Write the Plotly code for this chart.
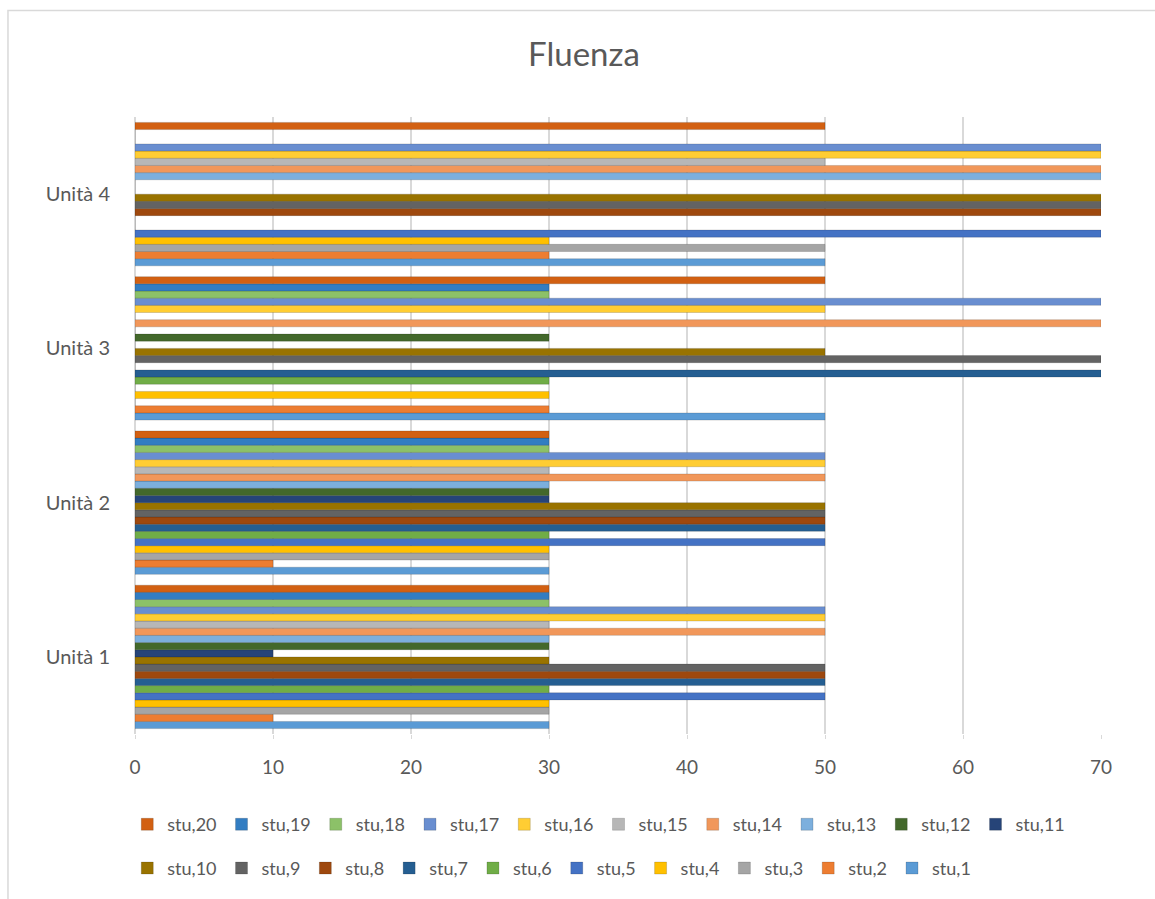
import plotly.graph_objects as go

# Categories (bottom to top) and student series
units = ["Unità 1", "Unità 2", "Unità 3", "Unità 4"]
students = [f"stu,{i}" for i in range(1, 21)]

stu_1 = [30, 30, 50, 50]
stu_2 = [10, 10, 30, 30]
stu_3 = [30, 30, 0, 50]
stu_4 = [30, 30, 30, 30]
stu_5 = [50, 50, 0, 70]
stu_6 = [30, 30, 30, 0]
stu_7 = [50, 50, 70, 0]
stu_8 = [50, 50, 0, 70]
stu_9 = [50, 50, 70, 70]
stu_10 = [30, 50, 50, 70]
stu_11 = [10, 30, 0, 0]
stu_12 = [30, 30, 30, 0]
stu_13 = [30, 30, 0, 70]
stu_14 = [50, 50, 70, 70]
stu_15 = [30, 30, 0, 50]
stu_16 = [50, 50, 50, 70]
stu_17 = [50, 50, 70, 70]
stu_18 = [30, 30, 30, 0]
stu_19 = [30, 30, 30, 0]
stu_20 = [30, 30, 50, 50]

series = [stu_1, stu_2, stu_3, stu_4, stu_5, stu_6, stu_7, stu_8, stu_9, stu_10,
          stu_11, stu_12, stu_13, stu_14, stu_15, stu_16, stu_17, stu_18, stu_19, stu_20]

colors = ["#5B9BD5", "#ED7D31", "#A5A5A5", "#FFC000", "#4472C4", "#70AD47",
          "#255E91", "#9E480E", "#636363", "#997300", "#264478", "#43682B",
          "#7CAFDD", "#F1975A", "#B7B7B7", "#FFCD33", "#698ED0", "#8CC168",
          "#327DC2", "#D26012"]

FONT = "Lato"
TEXT = "#595959"

fig = go.Figure()
for idx, (name, vals, col) in enumerate(zip(students, series, colors)):
    fig.add_trace(go.Bar(
        y=units, x=vals, name=name, orientation="h",
        # students 11-20 go in the upper legend row, 1-10 in the lower one
        legend="legend" if idx >= 10 else "legend2",
        marker=dict(color=col, line=dict(color="rgba(0,0,0,0.25)", width=0.6)),
    ))

legend_common = dict(orientation="h", traceorder="reversed", xanchor="left",
                     yanchor="middle", font=dict(size=18, color=TEXT),
                     itemwidth=30, bgcolor="rgba(0,0,0,0)")

fig.update_layout(
    width=1155, height=899,
    margin=dict(l=135, r=54, t=117, b=162),
    paper_bgcolor="white", plot_bgcolor="white",
    barmode="group", bargap=0.07, bargroupgap=0,
    font=dict(family=FONT, color=TEXT, size=20),
    title=dict(text="Fluenza", x=0.5056, xref="container", xanchor="center",
               y=0.939, yref="container", yanchor="middle",
               font=dict(family=FONT, size=33, color=TEXT)),
    xaxis=dict(range=[0, 70], dtick=10, showgrid=True, gridcolor="#D9D9D9",
               gridwidth=1.5, zeroline=True, zerolinecolor="#D9D9D9",
               zerolinewidth=1.5, showline=False, ticks="outside",
               ticklen=4, tickcolor="#D9D9D9", ticklabelstandoff=12,
               tickfont=dict(size=19, color=TEXT)),
    yaxis=dict(showgrid=False, zeroline=False, showline=False,
               ticklabelstandoff=24, tickfont=dict(size=20, color=TEXT)),
    legend=dict(legend_common, x=-0.008, y=(737 - 828) / 620),
    legend2=dict(legend_common, x=-0.008, y=(737 - 872) / 620),
    shapes=[dict(type="rect", xref="paper", yref="paper",
                 x0=-0.1315, x1=1.07, y0=-0.28, y1=1.1726,
                 line=dict(color="#D9D9D9", width=1.5), layer="below")],
)

fig.write_html("out.html")
